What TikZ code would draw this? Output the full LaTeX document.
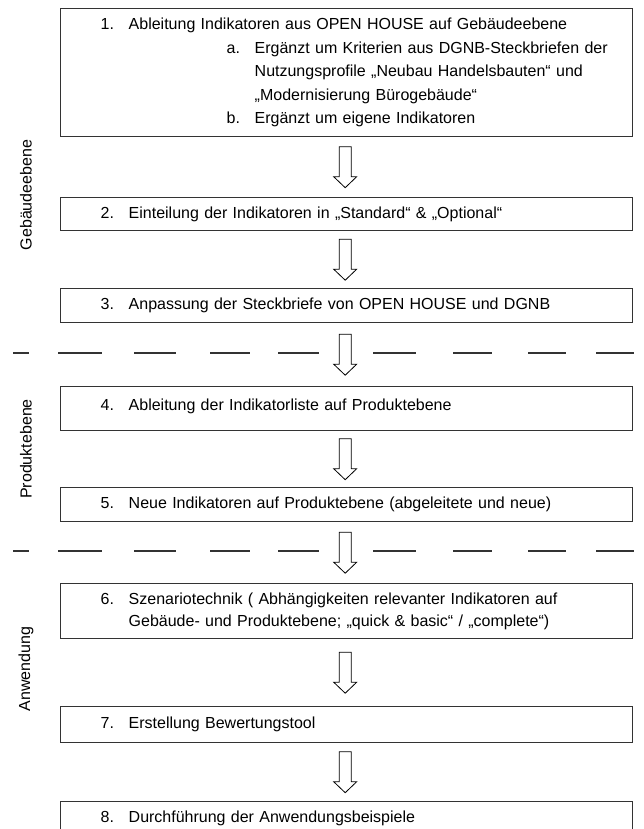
\documentclass[tikz,border=0pt]{standalone}
\usepackage{fontspec}
\setmainfont{Liberation Sans}
\usetikzlibrary{calc}

\newcommand{\nr}[1]{\hspace*{30pt}\makebox[28pt][l]{#1}}
\newcommand{\unr}[1]{\hspace*{156pt}\makebox[28pt][l]{#1}}

\begin{document}
\begin{tikzpicture}[x=1pt, y=-1pt,
  box/.style={draw=black!80, line width=1.4pt, rectangle, anchor=north west,
    text width=552pt, inner xsep=10pt, inner ysep=0pt, align=left,
    font=\fontsize{16}{23.5}\selectfont},
  seite/.style={rotate=90, font=\fontsize{16}{19}\selectfont},
  strich/.style={line width=1.4pt, black!80},
  pfeil/.pic={\draw[line width=0.8pt, fill=white] (-6,-20.5) -- (6,-20.5) -- (6,9.5) -- (11.5,9.5) -- (0,20.5) -- (-11.5,9.5) -- (-6,9.5) -- cycle;}]
\useasboundingbox (0,0) rectangle (643,829);

\node (b1) at (60,8) [box, minimum height=128pt] {\nr{1.}Ableitung Indikatoren aus OPEN HOUSE auf Gebäudeebene\\
\unr{a.}Ergänzt um Kriterien aus DGNB-Steckbriefen der\\
\hspace*{184pt}Nutzungsprofile „Neubau Handelsbauten“ und\\
\hspace*{184pt}„Modernisierung Bürogebäude“\\
\unr{b.}Ergänzt um eigene Indikatoren};
\node (b2) at (60,197) [box, minimum height=33pt] {\nr{2.}Einteilung der Indikatoren in „Standard“ \& „Optional“};
\node (b3) at (60,288) [box, minimum height=34pt] {\nr{3.}Anpassung der Steckbriefe von OPEN HOUSE und DGNB};
\node (b4) at (60,386) [box, minimum height=44pt, text depth=8pt] {\nr{4.}Ableitung der Indikatorliste auf Produktebene};
\node (b5) at (60,487) [box, minimum height=34pt] {\nr{5.}Neue Indikatoren auf Produktebene (abgeleitete und neue)};
\node (b6) at (60,583) [box, minimum height=55pt, font=\fontsize{16}{22.5}\selectfont] {\nr{6.}Szenariotechnik ( Abhängigkeiten relevanter Indikatoren auf\\
\hspace*{58pt}Gebäude- und Produktebene; „quick \& basic“ / „complete“)};
\node (b7) at (60,706) [box, minimum height=36pt] {\nr{7.}Erstellung Bewertungstool};
\node (b8) at (60,801) [box, minimum height=34pt] {\nr{8.}Durchführung der Anwendungsbeispiele};

% Ebenen
\node (e1) at (26,195) [seite] {Gebäudeebene};
\node (e2) at (26,449) [seite] {Produktebene};
\node (e3) at (26,669) [seite] {Anwendung};

% Trennlinien
\foreach \y in {353,551}
  \foreach \a/\b in {13/29, 58/102, 134/176, 210/250, 278/319, 373/416, 453/492, 528/566, 596/634}
    \draw[strich] (\a,\y) -- (\b,\y);

% Pfeile
\pic[xshift=-1.5pt] at ($(b1.south)!0.5!(b2.north)$) {pfeil};
\pic[xshift=-1.5pt] at ($(b2.south)!0.5!(b3.north)$) {pfeil};
\pic[xshift=-1.5pt] at ($(b3.south)!0.5!(b4.north)$) {pfeil};
\pic[xshift=-1.5pt] at ($(b4.south)!0.5!(b5.north)$) {pfeil};
\pic[xshift=-1.5pt] at ($(b5.south)!0.5!(b6.north)$) {pfeil};
\pic[xshift=-1.5pt] at ($(b6.south)!0.5!(b7.north)$) {pfeil};
\pic[xshift=-1.5pt] at ($(b7.south)!0.5!(b8.north)$) {pfeil};

\end{tikzpicture}
\end{document}
